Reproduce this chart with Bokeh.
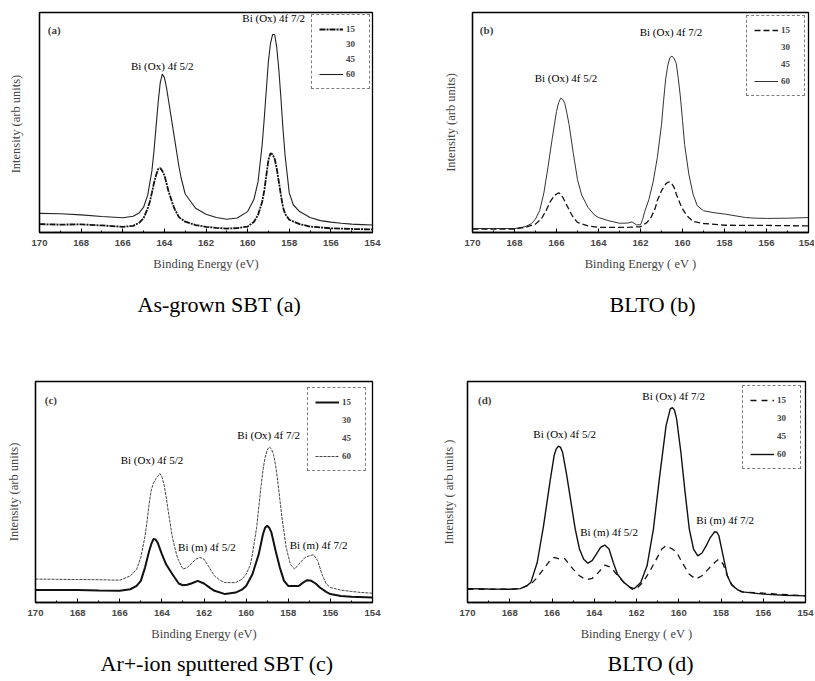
from bokeh.plotting import figure
from bokeh.models import Range1d, Label, Legend, LegendItem, FixedTicker, Title
from bokeh.layouts import column, row
from bokeh.embed import file_html
from bokeh.resources import INLINE
from bokeh.core.properties import value

# ---------------- data (binding energy in eV, intensity in arbitrary units) ----------------
X_TICKS = [170, 168, 166, 164, 162, 160, 158, 156, 154]
X_MINOR = [169, 167, 165, 163, 161, 159, 157, 155]
ANGLES = ["15", "30", "45", "60"]

# (a) As-grown SBT
a_hi_x = [170, 169, 168, 167, 166, 165.5, 165.2, 165, 164.8, 164.6, 164.5, 164.4, 164.3, 164.2, 164.1,
          164.0, 163.9, 163.8, 163.6, 163.5, 163.3, 163.2, 163.0, 162.5, 162, 161.5, 161, 160.5, 160,
          159.7, 159.5, 159.3, 159.2, 159.1, 159.0, 158.9, 158.8, 158.7, 158.6, 158.5, 158.4, 158.3,
          158.2, 158.0, 157.8, 157.5, 157, 156.5, 156, 155.5, 155, 154.5, 154]
a_hi_y = [8.7, 8.5, 8.0, 7.3, 6.7, 7.4, 9.0, 11.5, 17, 28, 37, 48, 59, 68, 72,
          70.5, 66, 60, 48, 42, 30, 25, 17.5, 11, 8.3, 6.8, 6.0, 6.6, 9.5,
          15, 23, 40, 52, 65, 78, 86, 90, 90, 84, 74, 61, 47,
          35, 18, 12.5, 9.5, 6.8, 5.4, 4.7, 4.2, 3.8, 3.6, 3.4]
a_lo_x = [170, 169, 168, 167, 166, 165.5, 165.2, 165, 164.8, 164.7, 164.6, 164.5, 164.4, 164.3, 164.2,
          164.1, 164.0, 163.9, 163.8, 163.6, 163.5, 163.3, 163, 162.5, 162, 161.5, 161, 160.5, 160,
          159.7, 159.5, 159.3, 159.2, 159.1, 159.0, 158.9, 158.8, 158.7, 158.6, 158.5, 158.4, 158.3,
          158.2, 158, 157.5, 157, 156, 155, 154]
a_lo_y = [3.8, 3.6, 3.7, 3.2, 2.6, 3.0, 4.5, 6.5, 11, 14, 18, 22.5, 26, 28.8, 29.3,
          28, 26, 22.5, 18.7, 13, 10.5, 7.0, 4.9, 3.4, 2.6, 2.1, 1.8, 2.0, 2.7,
          4.8, 8, 14, 19, 26, 33, 36, 35.5, 33.5, 29, 23, 17, 11.5,
          8.5, 5.8, 3.8, 2.7, 1.9, 1.6, 1.4]

# (b) BLTO
b_hi_x = [170, 169, 168, 167.5, 167.2, 167, 166.8, 166.6, 166.5, 166.4, 166.2, 166, 165.9, 165.8, 165.7,
          165.6, 165.5, 165.4, 165.2, 165, 164.8, 164.5, 164.2, 164, 163.5, 163, 162.6, 162.4, 162.2,
          162.0, 161.9, 161.8, 161.6, 161.4, 161.2, 161.0, 160.9, 160.8, 160.7, 160.6, 160.5, 160.4,
          160.3, 160.2, 160.1, 160.0, 159.9, 159.7, 159.5, 159.3, 159.0, 158.5, 158, 157.5, 157,
          156.5, 156, 155, 154]
b_hi_y = [1.8, 1.8, 1.8, 2.6, 4, 6.1, 10, 18, 24, 30, 43, 55, 59, 61, 60.5,
          58.5, 54, 49, 36, 24, 17, 11.4, 8, 6.8, 5.3, 4.2, 4.3, 4.8, 3.5,
          3.5, 6, 9.5, 15, 23, 34, 49, 60, 70, 76, 79.5, 80.2, 79,
          77, 70, 61.6, 51, 40, 26.6, 17.5, 12.2, 9.9, 9.0, 8.4, 7.6, 6.8,
          6.5, 6.4, 6.5, 6.8]
b_lo_x = [170, 168, 167.5, 167, 166.7, 166.5, 166.3, 166.1, 166.0, 165.9, 165.8, 165.7, 165.5, 165.3,
          165.2, 165, 164.5, 164, 163, 162.5, 162, 161.7, 161.5, 161.3, 161.2, 161.0, 160.8, 160.7,
          160.6, 160.5, 160.4, 160.3, 160.1, 160, 159.8, 159.7, 159.5, 159, 158, 156, 154]
b_lo_y = [1.5, 1.5, 2.3, 3.8, 6.5, 9.9, 14, 16.8, 17.5, 18, 17.5, 16, 12.2, 8.5,
          6.8, 4.6, 3.0, 2.3, 2.3, 2.4, 2.6, 4.5, 6.8, 11, 14.5, 19, 22, 22.8,
          23, 22, 20.5, 17.5, 12.8, 10.7, 7.8, 6.8, 5.0, 4.1, 3.3, 3.2, 3.0]

# (c) Ar+-ion sputtered SBT
c_hi_x = [170, 169, 168, 167, 166, 165.5, 165.2, 165, 164.8, 164.7, 164.6, 164.5, 164.4, 164.3, 164.2,
          164.1, 164.0, 163.9, 163.8, 163.7, 163.5, 163.3, 163.2, 163.0, 162.8, 162.6, 162.4, 162.2,
          162.0, 161.8, 161.5, 161.2, 161, 160.5, 160.2, 160, 159.8, 159.7, 159.5, 159.3, 159.2, 159.1,
          159.0, 158.9, 158.8, 158.7, 158.6, 158.5, 158.3, 158.1, 157.9, 157.7, 157.5, 157.2, 157.0,
          156.8, 156.6, 156.4, 156.2, 156, 155.5, 155, 154.5, 154]
c_hi_y = [10.6, 10.5, 10.4, 10.3, 10.1, 12, 15, 20.4, 30, 37, 45, 51, 54, 55.8, 57,
          58.4, 57, 53.5, 48, 41.5, 29.4, 21.5, 18.9, 15.1, 15.8, 17.5, 19.5, 20.4,
          19.6, 16.6, 12, 9.8, 9.0, 9.0, 10.5, 12.8, 17, 21.9, 34, 52, 60, 65.6,
          69, 70.4, 69.5, 67, 62, 55, 38.5, 24.9, 17.3, 15.1, 17.3, 20.4, 21.1,
          21.6, 18.9, 12.8, 8.5, 6.8, 5.6, 5.0, 4.5, 4.2]
c_lo_x = [170, 169, 168, 167, 166, 165.5, 165.2, 165, 164.8, 164.6, 164.5, 164.4, 164.3, 164.2, 164.0,
          163.8, 163.5, 163.2, 163.0, 162.8, 162.6, 162.3, 162.0, 161.7, 161.5, 161, 160.5, 160.2, 160,
          159.7, 159.4, 159.2, 159.1, 159.0, 158.9, 158.8, 158.6, 158.4, 158.2, 158.0, 157.5, 157.3,
          157.1, 156.9, 156.7, 156.5, 156.2, 156, 155.5, 155, 154]
c_lo_y = [5.6, 5.6, 5.6, 5.4, 5.3, 6.0, 7.5, 9.8, 15.8, 23.4, 26.5, 28.7, 28.5, 27.1, 21.9,
          17.3, 12.8, 8.6, 7.8, 8.0, 8.6, 9.8, 8.6, 6.5, 5.3, 3.8, 4.5, 5.8, 7.5,
          12.8, 21.9, 30.9, 33.8, 34.7, 33.8, 31.7, 23.4, 15.8, 9.8, 7.5, 7.5, 9.0,
          10.1, 9.8, 8.6, 6.8, 4.8, 3.8, 2.9, 2.6, 2.3]

# (d) BLTO
d_hi_x = [170, 169, 168, 167.5, 167.2, 167, 166.7, 166.4, 166.1, 165.9, 165.8, 165.7, 165.6, 165.5, 165.3,
          165.1, 164.9, 164.7, 164.5, 164.3, 164.1, 163.9, 163.7, 163.5, 163.3, 163.1, 162.9, 162.6,
          162.3, 162.1, 161.8, 161.5, 161.2, 160.9, 160.6, 160.4, 160.3, 160.2, 160.1, 159.9, 159.7,
          159.5, 159.3, 159.1, 158.9, 158.7, 158.5, 158.3, 158.2, 158.1, 157.9, 157.7, 157.5, 157.2,
          157, 156, 155, 154]
d_hi_y = [6.3, 6.1, 6.0, 6.3, 7.5, 9.1, 18.1, 34.7, 54.4, 66.5, 69.5, 70.7, 70.3, 68, 57.4,
          45.3, 33.2, 24.2, 19.6, 17.8, 18.9, 21.9, 24.9, 26, 24.2, 18.1, 12.8, 9.1,
          6.8, 6.3, 9.1, 16.6, 33.2, 57.4, 80, 87.6, 88.2, 87, 83, 68, 49.8,
          33.2, 24.2, 21.1, 22.4, 25.7, 29.5, 32, 31.8, 30.2, 21.1, 12.1, 7.9, 5.7,
          4.8, 3.8, 3.3, 3.0]
d_lo_x = [170, 168, 167.5, 167, 166.7, 166.4, 166.1, 165.9, 165.6, 165.4, 165.2, 165, 164.7, 164.4,
          164.1, 163.8, 163.5, 163.2, 162.9, 162.6, 162.2, 162, 161.7, 161.4, 161.1, 160.8, 160.6,
          160.3, 160.1, 159.8, 159.5, 159.2, 158.9, 158.6, 158.3, 158.1, 157.9, 157.7, 157.5, 157.2,
          157, 154]
d_lo_y = [6, 6, 6.3, 8.3, 11.3, 15.1, 18.9, 20.4, 19.6, 19.9, 17.4, 15.1, 12.1, 10.3,
          10.9, 13.6, 16.9, 15.9, 12.1, 9.1, 6.0, 6.3, 9.1, 13.6, 18.9, 24.2, 25.7,
          24.2, 22.7, 17.4, 12.8, 10.6, 12.1, 15.1, 18.1, 19.6, 17.4, 12.1, 8.3, 5.7,
          4.8, 3.0]

# annotation texts and positions (energy, intensity)
a_peaks = [("Bi (Ox) 4f 5/2", 164.1, 75.7), ("Bi (Ox) 4f 7/2", 158.75, 97.6)]
b_peaks = [("Bi (Ox) 4f 5/2", 165.55, 70.3), ("Bi (Ox) 4f 7/2", 160.55, 91.0)]
c_peaks = [("Bi (Ox) 4f 5/2", 164.47, 64.4), ("Bi (m) 4f 5/2", 161.86, 25.2),
           ("Bi (Ox) 4f 7/2", 158.93, 75.7), ("Bi (m) 4f 7/2", 156.56, 26.1)]
d_peaks = [("Bi (Ox) 4f 5/2", 165.4, 76.3), ("Bi (m) 4f 5/2", 163.3, 32.0),
           ("Bi (Ox) 4f 7/2", 160.24, 93.4), ("Bi (m) 4f 7/2", 157.8, 37.3)]

SERIF = "Liberation Serif"
SANS = "Liberation Sans"


def panel(width, height, bl, br, bt, bb, tag, tag_x, tag_y, ylabel, xlabel, ystandoff,
          hi, lo, hi_style, lo_style, peaks, caption, cap_offset, cap_standoff, leg_margin, leg_spacing):
    p = figure(width=width, height=height, title=None,
               x_range=Range1d(170, 154), y_range=Range1d(0, 100),
               output_backend="svg", toolbar_location=None,
               min_border_left=bl, min_border_right=br, min_border_top=bt, min_border_bottom=bb)
    p.xgrid.visible = False
    p.ygrid.visible = False
    p.outline_line_color = "black"
    p.outline_line_width = 1.3
    p.outline_line_alpha = 1

    xa = p.xaxis[0]
    xa.ticker = FixedTicker(ticks=X_TICKS, minor_ticks=X_MINOR)
    xa.major_tick_in = 4
    xa.major_tick_out = 0
    xa.minor_tick_in = 2
    xa.minor_tick_out = 0
    xa.axis_line_width = 1.3
    xa.major_label_text_font = SANS
    xa.major_label_text_font_size = "9.5px"
    xa.major_label_text_font_style = "bold"
    xa.major_label_standoff = 7
    xa.axis_label = xlabel
    xa.axis_label_text_font = SERIF
    xa.axis_label_text_font_size = "12.5px"
    xa.axis_label_text_font_style = "normal"
    xa.axis_label_standoff = 8

    ya = p.yaxis[0]
    ya.ticker = FixedTicker(ticks=[])
    ya.major_tick_in = 0
    ya.major_tick_out = 0
    ya.minor_tick_in = 0
    ya.minor_tick_out = 0
    ya.axis_line_width = 1.3
    ya.axis_label = ylabel
    ya.axis_label_text_font = SERIF
    ya.axis_label_text_font_size = "12.5px"
    ya.axis_label_text_font_style = "normal"
    ya.axis_label_standoff = ystandoff

    r_hi = p.line(hi[0], hi[1], **hi_style)
    r_lo = p.line(lo[0], lo[1], **lo_style)
    r30 = p.line([], [], line_alpha=0)
    r45 = p.line([], [], line_alpha=0)

    for txt, x, y in peaks:
        p.text(x=[x], y=[y], text=[txt], text_font=value(SERIF), text_font_size="11px",
               text_align="center", text_baseline="middle", text_color="black")
    p.add_layout(Label(x=tag_x, y=tag_y, text=tag, text_font=SERIF, text_font_size="11px",
                       text_font_style="bold", text_align="left", text_baseline="middle"))

    legend = Legend(items=[LegendItem(label=ANGLES[0], renderers=[r_lo]),
                           LegendItem(label=ANGLES[1], renderers=[r30]),
                           LegendItem(label=ANGLES[2], renderers=[r45]),
                           LegendItem(label=ANGLES[3], renderers=[r_hi])],
                    location="top_right", margin=leg_margin, padding=7, spacing=leg_spacing,
                    label_height=14, glyph_height=14, glyph_width=24, label_width=16,
                    label_standoff=3, label_text_font=SERIF, label_text_font_size="9px",
                    label_text_font_style="bold", border_line_color="black",
                    border_line_dash="4 2", border_line_width=1, background_fill_alpha=1)
    p.add_layout(legend)

    p.add_layout(Title(text=caption, align="left", offset=cap_offset, standoff=cap_standoff,
                       text_font=SERIF, text_font_size="22px", text_font_style="normal",
                       text_color="black"), "below")
    return p


pa = panel(406, 346, 39, 34, 12, 114, "(a)", 169.6, 92, "Intensity (arb  units)", "Binding Energy (eV)", 17,
           (a_hi_x, a_hi_y), (a_lo_x, a_lo_y),
           dict(line_color="#222222", line_width=1.1),
           dict(line_color="#111111", line_width=1.8, line_dash="6 1 2 1"),
           a_peaks, "As-grown SBT (a)", 98, 32, 2, 1)
pb = panel(408, 346, 66, 6, 12, 114, "(b)", 169.65, 92, "Intensity (arb units)", "Binding Energy ( eV )", 15,
           (b_hi_x, b_hi_y), (b_lo_x, b_lo_y),
           dict(line_color="#333333", line_width=1.0),
           dict(line_color="#111111", line_width=1.3, line_dash="6 3"),
           b_peaks, "BLTO (b)", 137, 32, 3, 3)
pc = panel(406, 334, 35, 34, 35, 78, "(c)", 169.56, 91.6, "Intensity (arb units)", "Binding Energy (eV)", 15,
           (c_hi_x, c_hi_y), (c_lo_x, c_lo_y),
           dict(line_color="#444444", line_width=1.0, line_dash="3 1"),
           dict(line_color="#111111", line_width=2.0),
           c_peaks, "Ar+-ion sputtered SBT (c)", 65, 10, 6, 4)
pd = panel(408, 334, 61, 9, 35, 78, "(d)", 169.5, 91.8, "Intensity ( arb units )", "Binding Energy ( eV )", 12,
           (d_hi_x, d_hi_y), (d_lo_x, d_lo_y),
           dict(line_color="#111111", line_width=1.4),
           dict(line_color="#111111", line_width=1.3, line_dash="6 5"),
           d_peaks, "BLTO (d)", 140, 10, 4, 4)

layout = column(row(pa, pb, spacing=0), row(pc, pd, spacing=0), spacing=0)
open("out.html", "w").write(file_html(layout, INLINE))
